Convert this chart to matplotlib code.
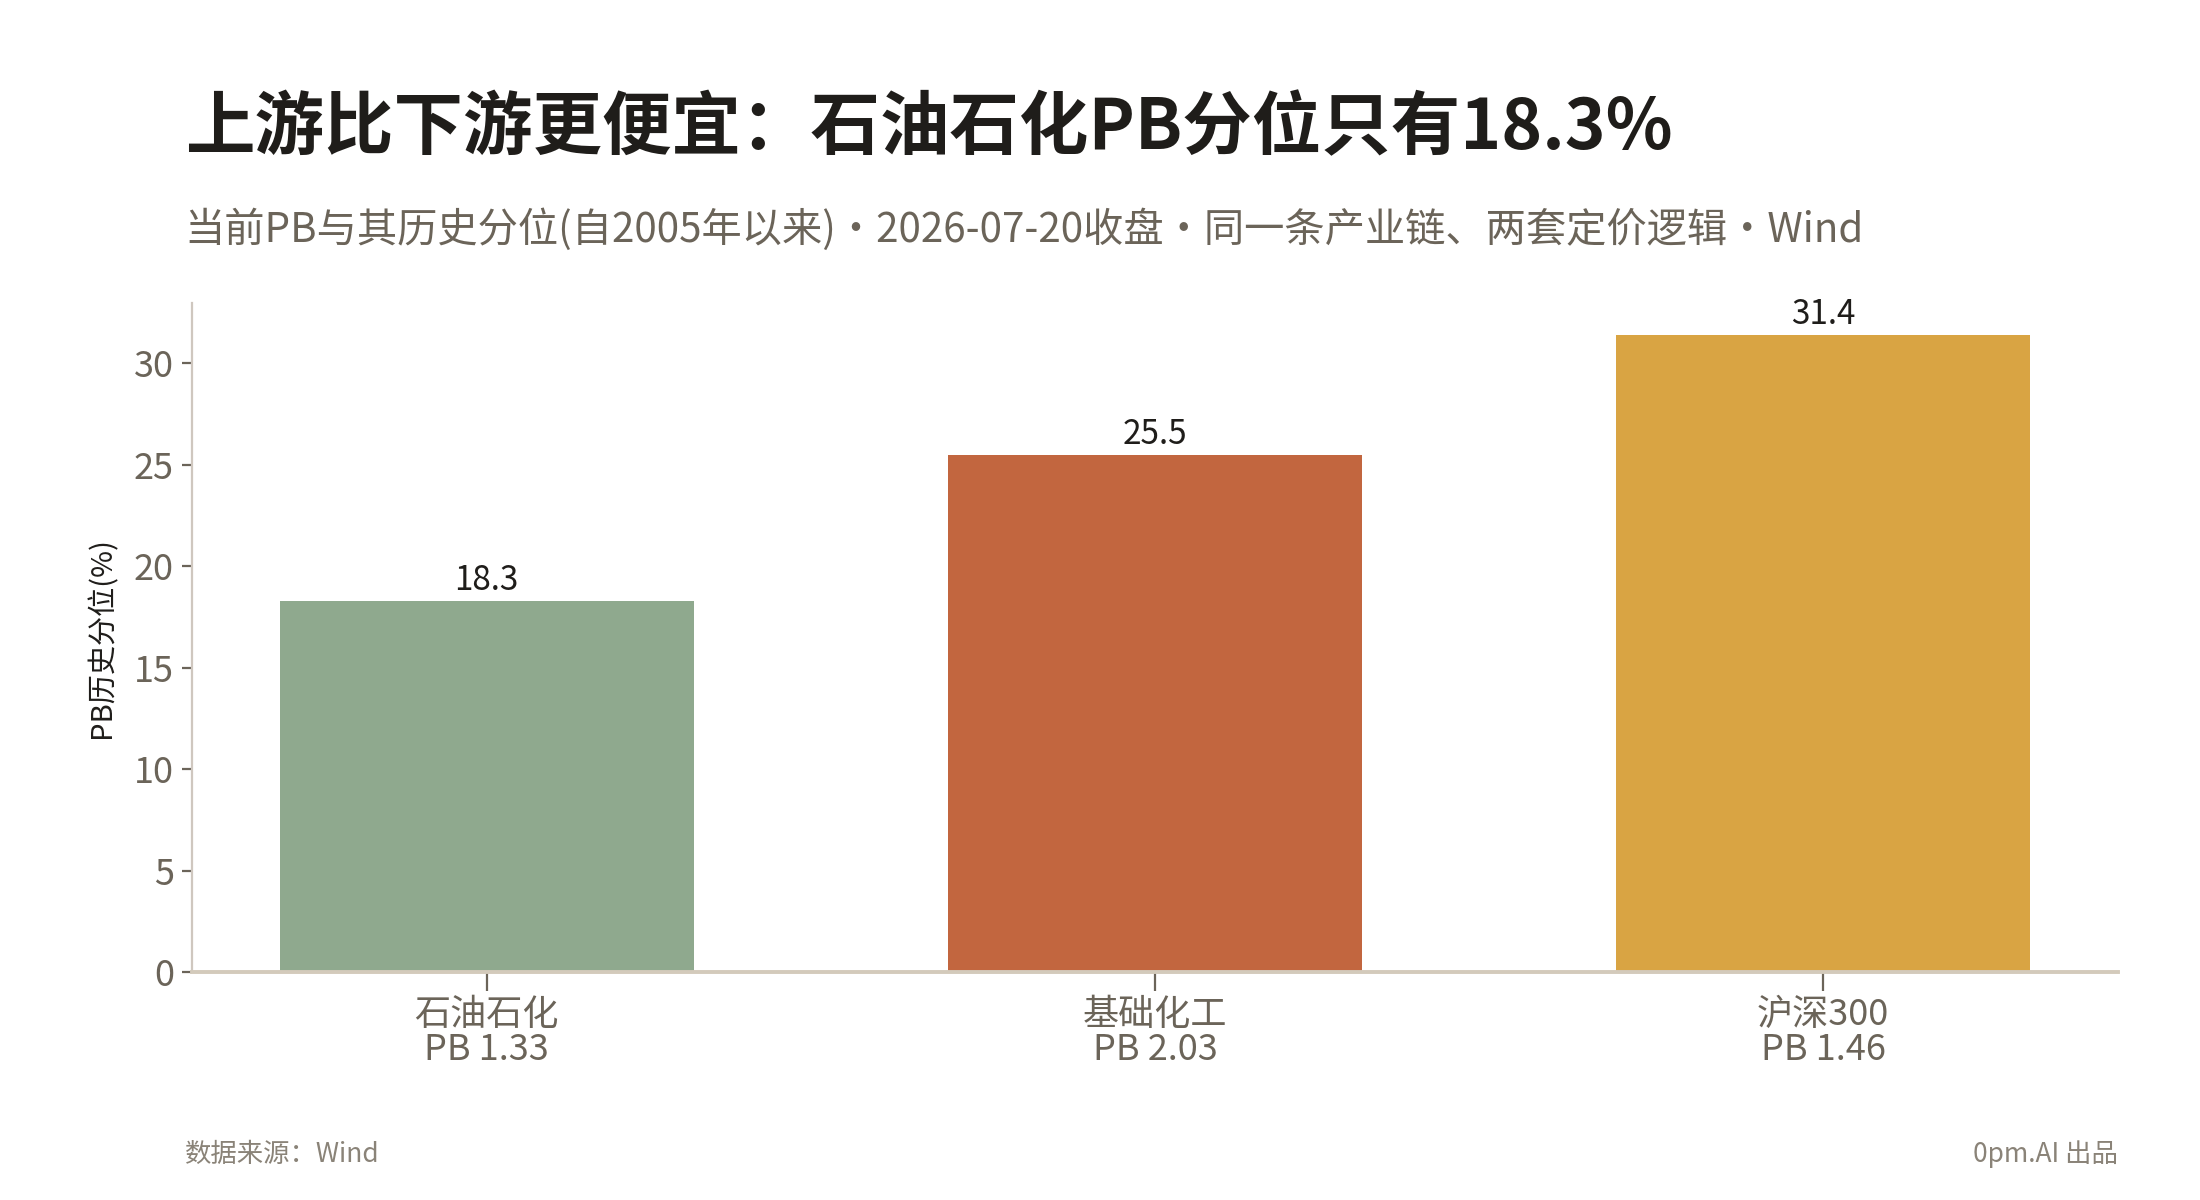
import matplotlib
matplotlib.use("Agg")
import matplotlib.pyplot as plt

plt.rcParams['font.family'] = ['Noto Sans CJK SC', 'DejaVu Sans']

categories = ['石油石化', '基础化工', '沪深300']
pb_values = ['1.33', '2.03', '1.46']
pct_values = [18.3, 25.5, 31.4]
bar_colors = ['#8FA98E', '#C2663F', '#D9A443']

title = '上游比下游更便宜：石油石化PB分位只有18.3%'
subtitle = '当前PB与其历史分位(自2005年以来)・2026-07-20收盘・同一条产业链、两套定价逻辑・Wind'

text_grey = '#6B6459'

fig = plt.figure(figsize=(11, 6), dpi=200)
ax = fig.add_axes([0.0873, 0.19, 0.8754, 0.5575])

x = list(range(len(categories)))
bars = ax.bar(x, pct_values, width=0.62, color=bar_colors)
ax.bar_label(bars, labels=[f'{v:.1f}' for v in pct_values], padding=1,
             fontsize=12, color='#1F1D1A')

ax.set_ylim(0, max(pct_values) * 1.05)
ax.set_xticks(x)
ax.set_xticklabels([f'{c}\nPB {p}' for c, p in zip(categories, pb_values)],
                   fontsize=13, color=text_grey, linespacing=0.95)
ax.tick_params(axis='x', length=7, width=0.8, color='#6B6459', pad=2)
ax.tick_params(axis='y', length=3.5, width=0.8, color='#6B6459',
               labelsize=13, labelcolor=text_grey, pad=3)
ax.set_ylabel('PB历史分位(%)', fontsize=10.5, color='#1F1D1A', labelpad=6)

for s in ['top', 'right']:
    ax.spines[s].set_visible(False)
ax.spines['left'].set_color('#CFC7BF')
ax.spines['left'].set_linewidth(0.8)
ax.spines['bottom'].set_color('#D3CABB')
ax.spines['bottom'].set_linewidth(1.4)

fig.text(0.084, 0.876, title, fontsize=25, fontweight='bold',
         color='#1F1D1A', va='baseline', ha='left')
fig.text(0.084, 0.798, subtitle, fontsize=14.5, color=text_grey,
         va='baseline', ha='left')
fig.text(0.084, 0.032, '数据来源：Wind', fontsize=9.5, color='#8A8378',
         va='baseline', ha='left')
fig.text(0.9627, 0.032, '0pm.AI 出品', fontsize=9.5, color='#8A8378',
         va='baseline', ha='right')

fig.savefig('out.png', dpi=200, facecolor='white')
